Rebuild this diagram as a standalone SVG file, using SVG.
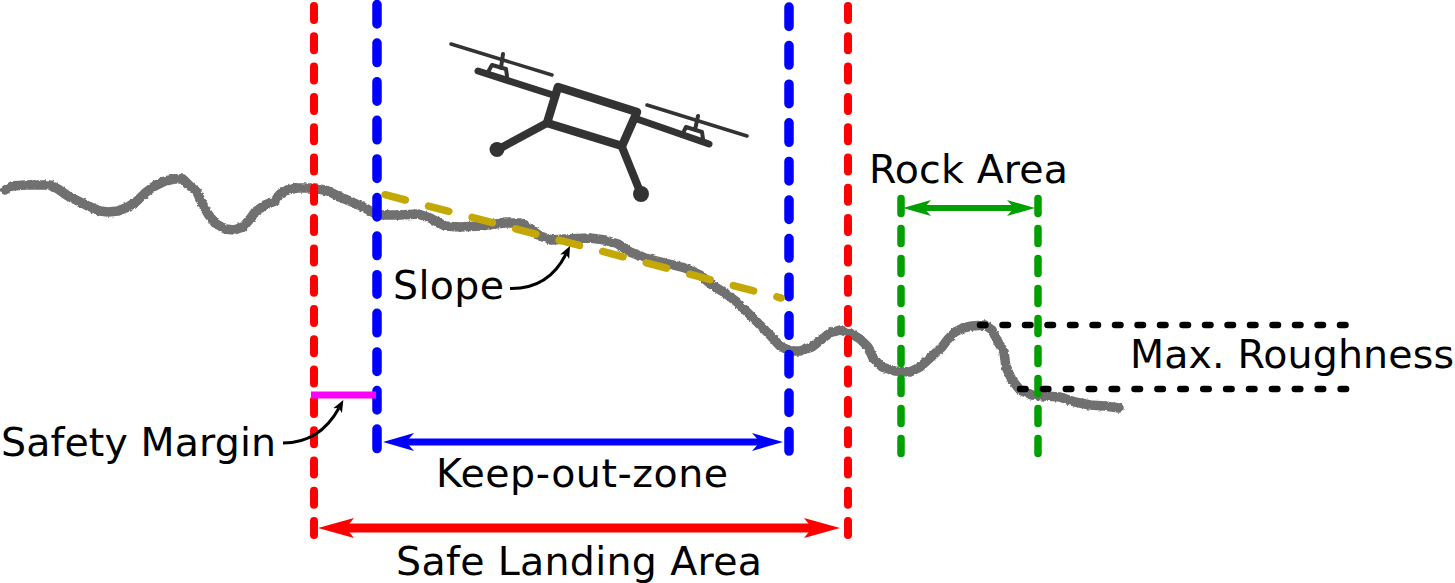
<svg xmlns="http://www.w3.org/2000/svg" width="1455" height="583" viewBox="0 0 1455 583">
<style>
text{font-family:"DejaVu Sans",sans-serif;font-size:39.500px;fill:#000}
.v{fill:none;stroke-linecap:round}
.red{stroke:#f00;stroke-width:8;stroke-dasharray:14 16.3}
.blue{stroke:#00f;stroke-width:9.500;stroke-dasharray:19.5 19.1}
.green{stroke:#00a000;stroke-width:7.500;stroke-dasharray:15 15}
.dot{stroke:#000;stroke-width:6.500;stroke-dasharray:5.500 17;fill:none;stroke-linecap:round}
.d{fill:none;stroke:#333;stroke-linecap:round;stroke-linejoin:round}
.lead{fill:none;stroke:#000;stroke-width:3}
</style>
<defs>
<filter id="rough" x="-2%" y="-10%" width="104%" height="120%"><feTurbulence type="fractalNoise" baseFrequency="0.3" numOctaves="2" seed="4"/><feDisplacementMap in="SourceGraphic" scale="3" xChannelSelector="R" yChannelSelector="G"/></filter>
<marker id="aRed" markerUnits="userSpaceOnUse" markerWidth="40" markerHeight="24" refX="8" refY="11" orient="auto-start-reverse"><path d="M0,1L36,11L0,21L8,11z" fill="#f00"/></marker>
<marker id="aBlue" markerUnits="userSpaceOnUse" markerWidth="36" markerHeight="22" refX="8" refY="10" orient="auto-start-reverse"><path d="M0,1L31,10L0,19L8,10z" fill="#00f"/></marker>
<marker id="aGreen" markerUnits="userSpaceOnUse" markerWidth="32" markerHeight="20" refX="7" refY="9" orient="auto-start-reverse"><path d="M0,1L28,9L0,17L7,9z" fill="#00a000"/></marker>
<marker id="aBlack" markerUnits="userSpaceOnUse" markerWidth="14" markerHeight="12" refX="3" refY="6" orient="auto"><path d="M0,1L12,6L0,11L3,6z" fill="#000"/></marker>
</defs>
<g id="terrain"><path filter="url(#rough)" fill="none" stroke="#6f6f6f" stroke-width="9.500" stroke-linecap="round" stroke-linejoin="round" d="M5,190L12,186L25,185L38,185L50,185L58,189L68,196L78,201L90,207L100,211L108,212L118,211L128,207L137,201L145,193L153,187L165,181L175,179L183,179L190,186L197,192L202,203L208,214L215,223L225,229L234,230L243,227L250,219L255,212L265,205L275,201L280,194L287,190L297,188L315,188L328,191L340,197L352,202L365,208L378,215L400,215L418,214L430,218L445,226L460,227L480,226L495,224L505,223L521,223L530,229L540,236L552,240L565,239L590,238L605,240L618,244L630,252L645,258L665,263L685,268L700,275L712,285L725,293L737,302L748,313L758,323L770,335L780,346L790,351L800,351L812,347L822,339L830,333L840,330L850,333L860,339L868,347L873,358L882,367L895,371L910,372L920,367L930,358L942,347L948,339L955,332L963,328L972,326L985,325L992,330L998,342L1004,352L1006,367L1012,380L1020,390L1032,395L1045,396L1060,397L1075,402L1090,405L1105,406L1119,408"/></g>
<g id="connectors">
<path class="v red" d="M314,6V540"/>
<path class="v red" d="M848,6V540"/>
<path class="v blue" d="M377,4.500V455"/>
<path class="v blue" d="M789,7V458"/>
<path class="v green" d="M901,198.500V455"/>
<path class="v green" d="M1038,198.500V455"/>
<path d="M385,194.700L781,298" fill="none" stroke="#c4a805" stroke-width="7.500" stroke-linecap="round" stroke-dasharray="21 24"/>
<path class="dot" d="M980,325H1350"/>
<path class="dot" d="M1020,389H1350" style="stroke-dasharray:5.500 17.400"/>
<path d="M311,395H376" stroke="#f0f" stroke-width="7" fill="none"/>
<path d="M406,442H760" stroke="#00f" stroke-width="7" fill="none" marker-start="url(#aBlue)" marker-end="url(#aBlue)"/>
<path d="M346,528H812" stroke="#f00" stroke-width="9" fill="none" marker-start="url(#aRed)" marker-end="url(#aRed)"/>
<path d="M924,208H1014" stroke="#00a000" stroke-width="6" fill="none" marker-start="url(#aGreen)" marker-end="url(#aGreen)"/>
<path class="lead" marker-end="url(#aBlack)" d="M510,288.500C538,289 555,276 566,254"/>
<path class="lead" marker-end="url(#aBlack)" d="M283,443C310,443 328,428 339,408"/>
</g>
<g id="drone">
<path class="d" stroke-width="3.500" d="M451,44L552,75M647,105L747,136"/>
<path class="d" stroke-width="7" d="M478,71L553,95M637,119L709,144"/>
<path class="d" stroke-width="8.500" d="M558,87L637,112L622,146L547,123z"/>
<path class="d" stroke-width="8" d="M547,123L497,150M622,147L641,194"/>
<circle cx="497" cy="149.500" r="7.500" fill="#333"/><circle cx="641" cy="194" r="8" fill="#333"/>
<path class="d" stroke-width="4" d="M488,72L492,65L506,69L507,76M503,54L501,68M684,131L686,127L702,132L703,139M698,116L695,130"/>
</g>
<g id="labels">
<text id="rock-area" x="869" y="183" textLength="199">Rock Area</text>
<text id="slope" x="393" y="299" textLength="111">Slope</text>
<text id="max-roughness" x="1130" y="368" textLength="324">Max. Roughness</text>
<text id="safety-margin" x="1" y="456" textLength="275">Safety Margin</text>
<text id="keep-out-zone" x="436" y="487" textLength="292">Keep-out-zone</text>
<text id="safe-landing-area" x="396" y="575" textLength="366">Safe Landing Area</text>
</g>
</svg>
